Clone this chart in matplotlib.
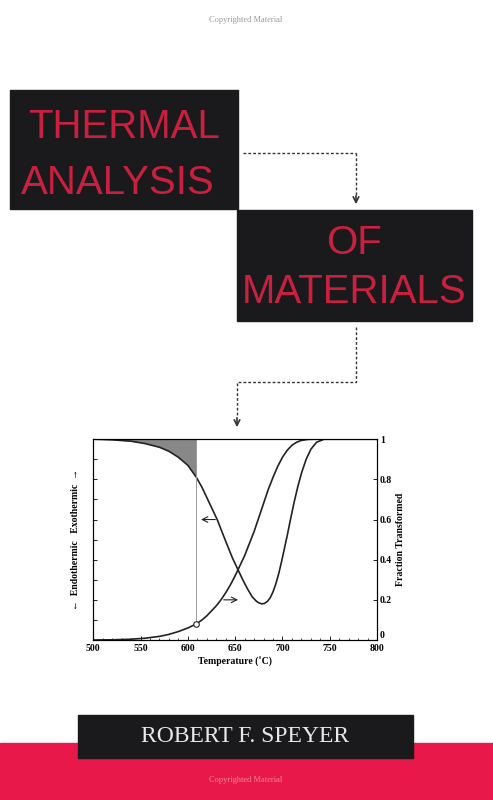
import numpy as np
import matplotlib.pyplot as plt
from matplotlib.patches import Rectangle

# data
frac_T = [500, 520, 540, 555, 570, 580, 590, 600, 609, 615, 620, 625, 630, 635,
          640, 645, 650, 655, 660, 665, 670, 675, 680, 685, 690, 695, 700, 705,
          710, 715, 720, 727, 735, 800]
frac_y = [0, 0.001, 0.004, 0.009, 0.018, 0.028, 0.042, 0.06, 0.08, 0.1, 0.12,
          0.145, 0.17, 0.2, 0.235, 0.275, 0.32, 0.37, 0.42, 0.48, 0.54, 0.61,
          0.68, 0.75, 0.81, 0.865, 0.91, 0.945, 0.97, 0.985, 0.994, 0.999, 1.0, 1.0]
dta_T = [500, 520, 540, 555, 570, 580, 590, 600, 609, 615, 620, 625, 631, 636,
         641, 647, 653, 658, 663, 668, 672, 675, 678, 681, 684, 687, 690, 693,
         696, 699, 702, 705, 708, 712, 716, 720, 725, 730, 736, 744, 800]
dta_y = [1.0, 0.997, 0.99, 0.978, 0.96, 0.94, 0.91, 0.87, 0.81, 0.76, 0.71,
         0.66, 0.6, 0.54, 0.48, 0.41, 0.35, 0.3, 0.255, 0.215, 0.195, 0.185,
         0.18, 0.182, 0.192, 0.21, 0.24, 0.28, 0.33, 0.39, 0.455, 0.52, 0.59,
         0.68, 0.76, 0.83, 0.9, 0.95, 0.985, 1.0, 1.0]
onset_T = 609
onset_y = 0.08
xticks = [500, 550, 600, 650, 700, 750, 800]
yticks = [0, 0.2, 0.4, 0.6, 0.8, 1]
ytick_labels = ['0', '0.2', '0.4', '0.6', '0.8', '1']

red = '#c8203f'
band = '#e8184a'
dark = '#1a1a1c'
serif = ['Liberation Serif', 'DejaVu Serif']
title_font = ['Liberation Sans Narrow', 'Liberation Sans', 'DejaVu Sans']

fig = plt.figure(figsize=(4.93, 8), dpi=100)
bg = fig.add_axes([0, 0, 1, 1])
bg.set_xlim(0, 493)
bg.set_ylim(800, 0)
bg.axis('off')

bg.text(246, 20, 'Copyrighted Material', ha='center', va='center', fontsize=6,
        color='#999999', family=serif)

# title boxes
bg.add_patch(Rectangle((10, 90), 228, 119, color=dark))
bg.add_patch(Rectangle((237, 210), 235, 111, color=dark))
tkw = dict(ha='center', va='center', fontsize=29, color=red, family=title_font)
bg.text(124, 127, 'THERMAL', **tkw)
bg.text(118, 183, 'ANALYSIS', **tkw)
bg.text(354, 243, 'OF', **tkw)
bg.text(354, 292, 'MATERIALS', **tkw)

# dashed connectors
kw = dict(color='#333333', lw=1, ls=(0, (2, 1.5)))
bg.plot([243, 356], [153, 153], **kw)
bg.plot([356, 356], [153, 195], **kw)
bg.annotate('', xy=(356, 207), xytext=(356, 193),
            arrowprops=dict(arrowstyle='->', color='#333333', lw=1.2))
bg.plot([356, 356, 237, 237], [327, 382, 382, 417], **kw)
bg.annotate('', xy=(237, 430), xytext=(237, 415),
            arrowprops=dict(arrowstyle='->', color='#333333', lw=1.2))

# bottom band and author box
bg.add_patch(Rectangle((0, 743), 493, 57, color=band))
bg.add_patch(Rectangle((78, 715), 335, 43, color=dark))
bg.text(245, 737, 'ROBERT F. SPEYER', ha='center', va='center', fontsize=17,
        color='#e8e8e8', family=serif)
bg.text(246, 780, 'Copyrighted Material', ha='center', va='center', fontsize=6,
        color='#f08aa0', family=serif)

# the plot
ax = fig.add_axes([0.189, 0.2, 0.576, 0.251])
ax.set_xlim(500, 800)
ax.set_ylim(0, 1)
dta_T = np.array(dta_T)
dta_y = np.array(dta_y)
m = dta_T <= onset_T
ax.fill_between(dta_T[m], dta_y[m], 1, color='#888888', lw=0)
ax.plot(dta_T, dta_y, color='#222222', lw=1.2)
ax.plot(frac_T, frac_y, color='#222222', lw=1.2)
ax.plot([onset_T, onset_T], [onset_y, 1], color='#999999', lw=0.7)
ax.plot([onset_T], [onset_y], marker='o', ms=4, mfc='white', mec='#222222', mew=0.8)
ax.annotate('', xy=(611, 0.6), xytext=(632, 0.6),
            arrowprops=dict(arrowstyle='->', color='#222222', lw=0.8))
ax.annotate('', xy=(656, 0.2), xytext=(635, 0.2),
            arrowprops=dict(arrowstyle='->', color='#222222', lw=0.8))

ax.set_xticks(xticks)
ax.set_xticklabels([str(t) for t in xticks], fontsize=7, fontweight='bold',
                   family=serif)
ax.set_xticks(np.arange(500, 801, 10), minor=True)
ax.set_yticks(np.arange(0, 1.01, 0.1))
ax.set_yticklabels([])
ax.tick_params(direction='in', length=3, width=0.6)
ax.tick_params(which='minor', direction='in', length=1.5, width=0.5)
ax.tick_params(axis='x', pad=3)
ax.set_xlabel('Temperature (˚C)', fontsize=7, fontweight='bold', family=serif,
              labelpad=3)
ax.set_ylabel('←  Endothermic   Exothermic  →', fontsize=7, fontweight='bold',
              family=serif, labelpad=6)
for s in ax.spines.values():
    s.set_linewidth(0.8)

ax2 = ax.twinx()
ax2.set_ylim(0, 1)
ax2.set_yticks(yticks)
ax2.set_yticklabels(ytick_labels, fontsize=7, fontweight='bold', family=serif)
ax2.get_yticklabels()[0].set_va('bottom')
ax2.tick_params(direction='in', length=3, width=0.6, pad=2)
ax2.set_ylabel('Fraction Transformed', fontsize=7, fontweight='bold', family=serif,
               labelpad=3)

fig.savefig('out.png', dpi=100)
